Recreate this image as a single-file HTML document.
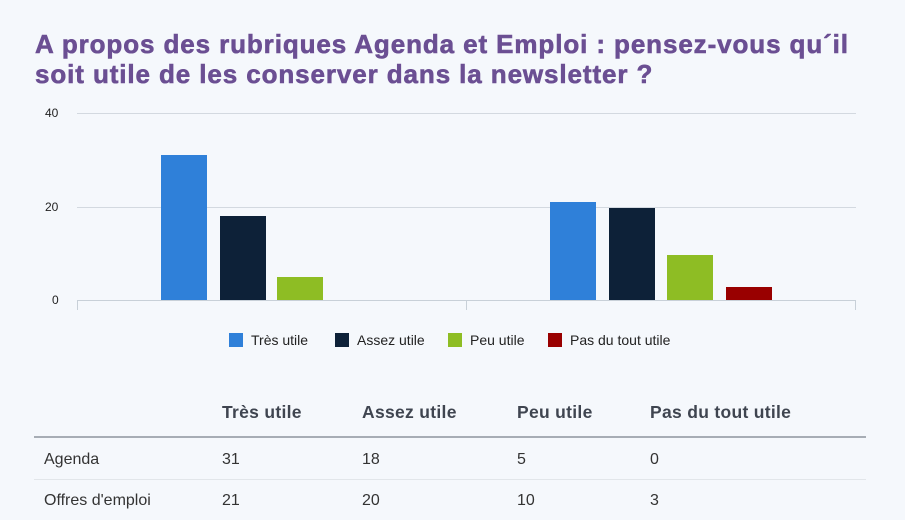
<!DOCTYPE html>
<html><head><meta charset="utf-8"><style>
body{margin:0;width:905px;height:520px;background:#f5f8fc;font-family:"Liberation Sans","DejaVu Sans",sans-serif;position:relative;overflow:hidden}
.t{position:absolute;left:35px;top:29px;font-weight:bold;font-size:26px;line-height:30px;color:#6b4f93;letter-spacing:0.9px;-webkit-text-stroke:0.6px #6b4f93}
.a{position:absolute;font-size:12px;color:#222}
.th{position:absolute;top:402px;font-weight:bold;font-size:17.5px;color:#3f4550;letter-spacing:0.3px}
.td{position:absolute;font-size:16px;color:#333}
</style></head><body>
<div class="t">A propos des rubriques Agenda et Emploi : pensez-vous qu´il<br>soit utile de les conserver dans la newsletter ?</div>
<svg width="905" height="380" style="position:absolute;left:0;top:0">
<line x1="77" y1="113.5" x2="856" y2="113.5" stroke="#d3d9e0"/>
<line x1="77" y1="207.5" x2="856" y2="207.5" stroke="#d3d9e0"/>
<line x1="77" y1="300.5" x2="856" y2="300.5" stroke="#c8d0d8"/>
<line x1="77.5" y1="300" x2="77.5" y2="310" stroke="#c8d0d8"/>
<line x1="466.5" y1="300" x2="466.5" y2="310" stroke="#c8d0d8"/>
<line x1="855.5" y1="300" x2="855.5" y2="310" stroke="#c8d0d8"/>
<rect x="161" y="155" width="46" height="145" fill="#2f80d9"/>
<rect x="220" y="216" width="46" height="84" fill="#0d2138"/>
<rect x="277" y="277" width="46" height="23" fill="#8ebd24"/>
<rect x="550" y="202" width="46" height="98" fill="#2f80d9"/>
<rect x="609" y="208" width="46" height="92" fill="#0d2138"/>
<rect x="667" y="255" width="46" height="45" fill="#8ebd24"/>
<rect x="726" y="287" width="46" height="13" fill="#990000"/>
<rect x="229" y="333" width="14" height="14" fill="#2f80d9"/>
<rect x="335" y="333" width="14" height="14" fill="#0d2138"/>
<rect x="448" y="333" width="14" height="14" fill="#8ebd24"/>
<rect x="548" y="333" width="14" height="14" fill="#990000"/>
<g font-family="Liberation Sans,sans-serif" font-size="14" fill="#222">
<text x="251" y="345">Très utile</text><text x="357" y="345">Assez utile</text><text x="470" y="345">Peu utile</text><text x="570" y="345">Pas du tout utile</text>
</g>
</svg>
<div class="a" style="left:45px;top:106px">40</div>
<div class="a" style="left:45px;top:200px">20</div>
<div class="a" style="left:52px;top:293px">0</div>
<div class="th" style="left:222px">Très utile</div>
<div class="th" style="left:362px">Assez utile</div>
<div class="th" style="left:517px">Peu utile</div>
<div class="th" style="left:650px">Pas du tout utile</div>
<div style="position:absolute;left:34px;top:436px;width:832px;height:2px;background:#a7adb5"></div>
<div style="position:absolute;left:34px;top:479px;width:832px;height:1px;background:#e2e6ea"></div>
<div class="td" style="left:44px;top:451px">Agenda</div>
<div class="td" style="left:222px;top:451px">31</div>
<div class="td" style="left:362px;top:451px">18</div>
<div class="td" style="left:517px;top:451px">5</div>
<div class="td" style="left:650px;top:451px">0</div>
<div class="td" style="left:44px;top:492px">Offres d'emploi</div>
<div class="td" style="left:222px;top:492px">21</div>
<div class="td" style="left:362px;top:492px">20</div>
<div class="td" style="left:517px;top:492px">10</div>
<div class="td" style="left:650px;top:492px">3</div>
</body></html>
